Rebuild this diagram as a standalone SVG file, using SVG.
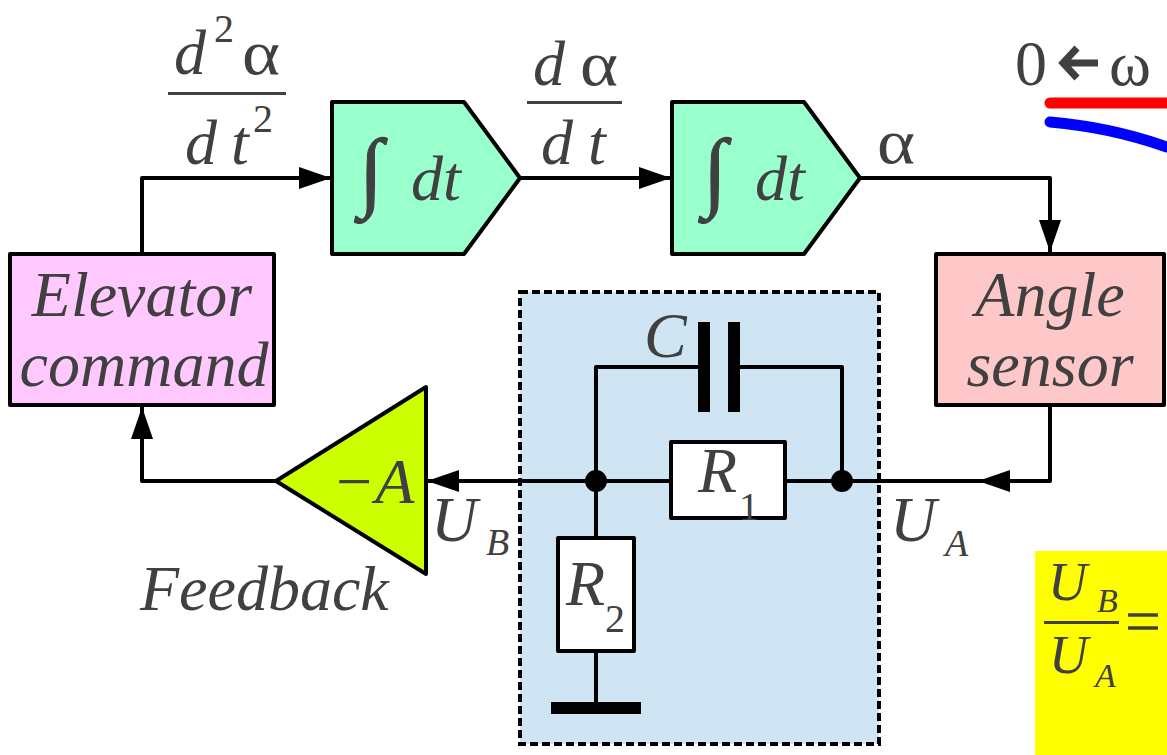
<svg xmlns="http://www.w3.org/2000/svg" width="1167" height="755" viewBox="0 0 1167 755">
<style>
.b{stroke:#000;stroke-width:4;stroke-linejoin:round}
.w{fill:none;stroke:#000;stroke-width:4;stroke-linejoin:round}
.bar{stroke:#404040;stroke-width:3;fill:none}
</style>
<defs>
<marker id="a" markerUnits="userSpaceOnUse" markerWidth="34" markerHeight="24" refX="32" refY="11" orient="auto"><path d="M0 0L32 11L0 22Z" fill="#000"/></marker>
</defs>
<rect width="1167" height="755" fill="#fff"/>
<g id="panel">
<rect x="520" y="292" width="359" height="452" fill="#cfe5f4" stroke="#000" stroke-width="4" stroke-dasharray="8 4"/>
</g>
<g id="yellow"><rect x="1035" y="551" width="132" height="204" fill="#ffff00"/></g>
<g id="connectors">
<path class="w" d="M142 254V178H331" marker-end="url(#a)"/>
<path class="w" d="M520 178H671" marker-end="url(#a)"/>
<path class="w" d="M860 178H1050V252" marker-end="url(#a)"/>
<path class="w" d="M1050 405V481H978" marker-end="url(#a)"/>
<path class="w" d="M978 481H596"/>
<path class="w" d="M596 481H427" marker-end="url(#a)"/>
<path class="w" d="M275 481H142V407" marker-end="url(#a)"/>
<path class="w" d="M596 481V367H700M740 367H842V481"/>
<path class="w" d="M596 481V707"/>
<circle cx="596" cy="481" r="11" fill="#000"/>
<circle cx="842" cy="481" r="11" fill="#000"/>
</g>
<g font-family="Liberation Serif" font-size="64" font-style="italic" fill="#404040">
<g id="elevator"><rect class="b" x="10" y="254" width="264" height="151" fill="#ffc8ff"/>
<text x="142" y="316" text-anchor="middle">Elevator</text>
<text x="144" y="386" text-anchor="middle">command</text></g>
<g id="int1"><path class="b" d="M332 102H464L520 178L464 254H332Z" fill="#99ffcc"/>
<text font-size="88" font-style="normal" stroke="#404040" x="359" y="200">∫</text><text x="411" y="200">dt</text></g>
<g id="int2"><path class="b" d="M672 102H804L860 178L804 254H672Z" fill="#99ffcc"/>
<text font-size="88" font-style="normal" stroke="#404040" x="703" y="200">∫</text><text x="755" y="200">dt</text></g>
<g id="angle"><rect class="b" x="936" y="254" width="228" height="151" fill="#ffc8c8"/>
<text x="1050" y="316" text-anchor="middle">Angle</text>
<text x="1050" y="386" text-anchor="middle">sensor</text></g>
<g id="amp"><path class="b" d="M276 481L426 387V574Z" fill="#ccff00"/>
<text x="332" y="503">−A</text></g>
<g id="cap"><rect x="698" y="322" width="12" height="90" fill="#000"/><rect x="728" y="322" width="12" height="90" fill="#000"/></g>
<g id="r1"><rect class="b" x="671" y="442" width="114" height="76" fill="#fff"/><text x="698" y="492">R</text><text font-size="40" font-style="normal" x="739" y="520">1</text></g>
<g id="r2"><rect class="b" x="558" y="538" width="76" height="113" fill="#fff"/><text x="566" y="605">R</text><text font-size="40" font-style="normal" x="605" y="632">2</text></g>
<g id="ground"><rect x="551" y="702" width="90" height="12" fill="#000"/></g>
<g id="labels">
<text x="174" y="74">d</text><text font-size="40" font-style="normal" x="214" y="42">2</text><text font-style="normal" x="242" y="74" textLength="38" lengthAdjust="spacingAndGlyphs">α</text>
<path class="bar" d="M168 93.500H286"/>
<text x="185" y="164">d</text><text x="231" y="164">t</text><text font-size="40" font-style="normal" x="253" y="132">2</text>
<text x="533" y="85">d</text><text font-style="normal" x="580" y="85" textLength="38" lengthAdjust="spacingAndGlyphs">α</text>
<path class="bar" d="M527 102.500H622"/>
<text x="541" y="164">d</text><text x="588" y="164">t</text>
<text font-style="normal" x="877" y="163" textLength="38" lengthAdjust="spacingAndGlyphs">α</text>
<text font-style="normal" x="1015" y="85">0</text>
<path d="M1098 63H1066M1077 48L1063 63L1077 78" fill="none" stroke="#404040" stroke-width="7"/>
<text font-style="normal" x="1109" y="85" textLength="42" lengthAdjust="spacingAndGlyphs">ω</text>
<text x="644" y="357">C</text>
<text x="431" y="541">U</text><text font-size="38" x="486" y="555">B</text>
<text x="890" y="541">U</text><text font-size="38" x="945" y="556">A</text>
<text x="140" y="610">Feedback</text>
<text font-size="54" x="1048" y="600">U</text><text font-size="34" x="1097" y="612">B</text>
<path class="bar" d="M1044 622.500H1119"/>
<text font-size="54" x="1049" y="673">U</text><text font-size="34" x="1095" y="687">A</text>
<path d="M1128 615H1158M1128 628H1158" stroke="#404040" stroke-width="3.500"/>
</g>
</g>
<g id="curves">
<path d="M1050 103H1167" stroke="#ff0000" stroke-width="11" stroke-linecap="round"/>
<path d="M1050 122Q1110 127 1167 147" fill="none" stroke="#0000ff" stroke-width="11" stroke-linecap="round"/>
</g>
</svg>
